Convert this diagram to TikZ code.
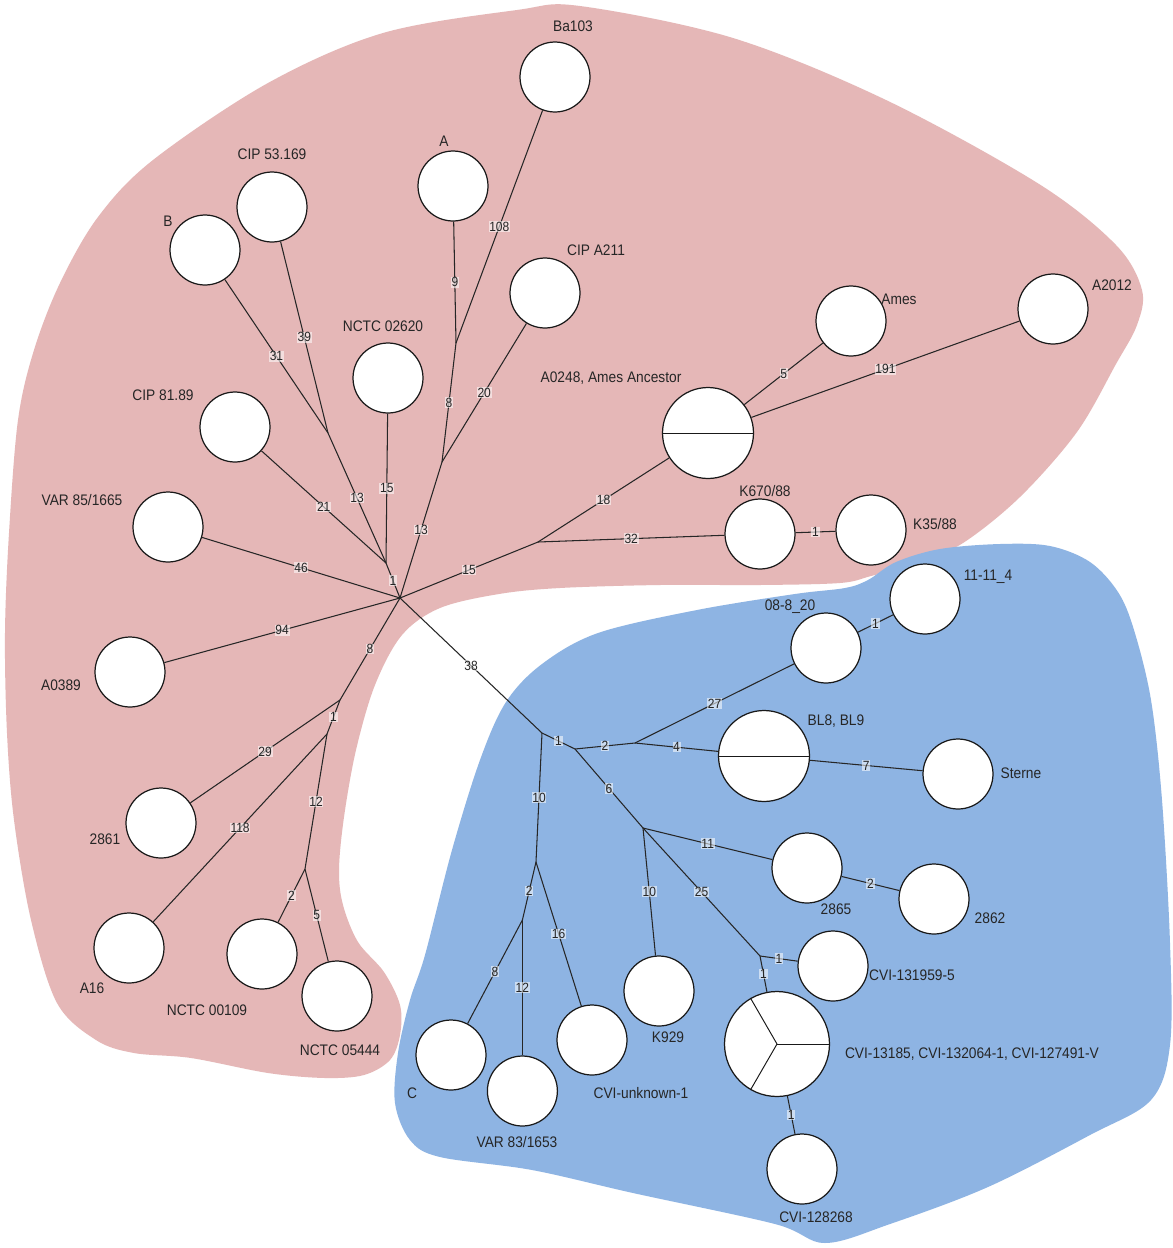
\documentclass[tikz,border=0pt]{standalone}
\usepackage{fontspec}
\setmainfont{Liberation Sans}[FakeStretch=0.9]
\definecolor{pinkblob}{HTML}{E5B7B7}
\definecolor{blueblob}{HTML}{8EB4E3}
\definecolor{txt}{HTML}{262626}
\begin{document}
\begin{tikzpicture}[x=0.02cm,y=-0.02cm,
 st/.style={circle,draw=black!90,fill=white,line width=0.7pt,minimum size=1.4cm,inner sep=0pt},
 big/.style={st,minimum size=1.82cm},
 huge/.style={st,minimum size=2.1cm},
 lab/.style={font=\fontsize{8.7}{10}\selectfont,text=txt,inner sep=0pt},
 edge/.style={line width=0.6pt,draw=black!85},
 split/.style={line width=0.55pt,draw=black!90},
 el/.style={font=\fontsize{7.6}{8}\selectfont,text=txt,fill=white,fill opacity=0.55,text opacity=1,inner sep=0.4pt}]
\useasboundingbox (0,0) rectangle (1173,1248);
\fill[white] (0,0) rectangle (1173,1248);
% pink cluster
\fill[pinkblob] plot[smooth cycle,tension=0.55] coordinates {
(580,6) (733,38) (886,100) (1039,184) (1116,245) (1142,290) (1137,325) (1116,364)
(1077,432) (1020,497) (963,543) (917,563) (871,576) (840,583) (760,585) (660,585)
(560,588) (499,594) (440,608) (402,635) (375,685) (356,750) (344,817) (339,870)
(343,905) (358,942) (384,972) (400,1005) (400,1035) (390,1060) (364,1075) (325,1078)
(268,1073) (191,1058) (134,1053) (96,1040) (57,1003) (31,920) (14,820) (7,733)
(5,633) (9,533) (18,420) (34,350) (60,283) (98,217) (153,160) (268,83) (383,33) (517,10)};
% blue cluster
\fill[blueblob] plot[smooth cycle,tension=0.55] coordinates {
(868,580) (896,562) (940,549) (1000,544) (1050,546) (1090,562) (1118,592) (1134,630)
(1151,700) (1162,800) (1170,943) (1170,1045) (1151,1100) (1090,1135) (988,1187) (890,1224)
(825,1243) (775,1224) (633,1193) (532,1170) (440,1157) (410,1140) (395,1103)
(398,1053) (410,1000) (425,955) (452,850) (480,760) (506,702) (542,664) (598,633)
(697,610) (795,594) (845,588)};
% nodes
\node[st] (Ba103) at (555,77) {};
\node[st] (A) at (453,186) {};
\node[st] (CIP53) at (272,207) {};
\node[st] (B) at (205,250) {};
\node[st] (CIPA211) at (545,293) {};
\node[st] (NCTC02620) at (388,378) {};
\node[st] (CIP81) at (235,427) {};
\node[st] (VAR85) at (168,527) {};
\node[st] (A0389) at (130,672) {};
\node[st] (n2861) at (161,823) {};
\node[st] (A16) at (129,948) {};
\node[st] (NCTC00109) at (262,954) {};
\node[st] (NCTC05444) at (337,996) {};
\node[big] (A0248) at (708,433) {};
\node[st] (Ames) at (851,321) {};
\node[st] (A2012) at (1053,309) {};
\node[st] (K670) at (760,534) {};
\node[st] (K35) at (871,530) {};
\node[st] (n1111) at (925,599) {};
\node[st] (n0808) at (826,648) {};
\node[big] (BL8) at (764,756) {};
\node[st] (Sterne) at (958,774) {};
\node[st] (n2865) at (807,868) {};
\node[st] (n2862) at (934,899) {};
\node[st] (CVI131959) at (833,966) {};
\node[huge] (CVItri) at (777,1044) {};
\node[st] (CVI128268) at (802,1169) {};
\node[st] (K929) at (659,991) {};
\node[st] (CVIunk) at (592,1040) {};
\node[st] (C) at (451,1055) {};
\node[st] (VAR83) at (522.4,1091) {};
% splits
\draw[split] (A0248.west) -- (A0248.east);
\draw[split] (BL8.west) -- (BL8.east);
\draw[split] (CVItri.center) -- (CVItri.0);
\draw[split] (CVItri.center) -- (CVItri.120);
\draw[split] (CVItri.center) -- (CVItri.240);
% junctions
\coordinate (hub) at (400,598);
\coordinate (jB) at (328,433);
\coordinate (jN) at (386,563);
\coordinate (jA1) at (442,462);
\coordinate (jA2) at (456,343);
\coordinate (jK) at (538,542);
\coordinate (jS1) at (340,700);
\coordinate (jS2) at (327,734);
\coordinate (jS3) at (305,869);
\coordinate (jb0) at (542,733);
\coordinate (jb1) at (575,749);
\coordinate (jb2) at (635,743);
\coordinate (jb3) at (643,828);
\coordinate (jb4) at (760,956);
\coordinate (jc1) at (536,862);
\coordinate (jc2) at (522.4,920);
% edges
\draw[edge] (Ba103) -- (jA2) node[el,midway]{108};
\draw[edge] (A) -- (jA2) node[el,midway]{9};
\draw[edge] (jA2) -- (jA1) node[el,midway]{8};
\draw[edge] (CIPA211) -- (jA1) node[el,midway]{20};
\draw[edge] (jA1) -- (hub) node[el,midway]{13};
\draw[edge] (CIP53) -- (jB) node[el,midway]{39};
\draw[edge] (B) -- (jB) node[el,midway]{31};
\draw[edge] (jB) -- (jN) node[el,midway]{13};
\draw[edge] (CIP81) -- (jN) node[el,midway]{21};
\draw[edge] (NCTC02620) -- (jN) node[el,midway]{15};
\draw[edge] (jN) -- (hub) node[el,midway]{1};
\draw[edge] (VAR85) -- (hub) node[el,midway]{46};
\draw[edge] (A0389) -- (hub) node[el,midway]{94};
\draw[edge] (hub) -- (jS1) node[el,midway]{8};
\draw[edge] (jS1) -- (n2861) node[el,midway]{29};
\draw[edge] (jS1) -- (jS2) node[el,midway]{1};
\draw[edge] (jS2) -- (A16) node[el,midway]{118};
\draw[edge] (jS2) -- (jS3) node[el,midway]{12};
\draw[edge] (jS3) -- (NCTC00109) node[el,midway]{2};
\draw[edge] (jS3) -- (NCTC05444) node[el,midway]{5};
\draw[edge] (hub) -- (jK) node[el,midway]{15};
\draw[edge] (jK) -- (A0248) node[el,midway]{18};
\draw[edge] (jK) -- (K670) node[el,midway]{32};
\draw[edge] (K670) -- (K35) node[el,midway]{1};
\draw[edge] (A0248) -- (Ames) node[el,midway]{5};
\draw[edge] (A0248) -- (A2012) node[el,midway]{191};
\draw[edge] (hub) -- (jb0) node[el,midway]{38};
\draw[edge] (jb0) -- (jb1) node[el,midway]{1};
\draw[edge] (jb0) -- (jc1) node[el,midway]{10};
\draw[edge] (jb1) -- (jb2) node[el,midway]{2};
\draw[edge] (jb2) -- (n0808) node[el,midway]{27};
\draw[edge] (n0808) -- (n1111) node[el,midway]{1};
\draw[edge] (jb2) -- (BL8) node[el,midway]{4};
\draw[edge] (BL8) -- (Sterne) node[el,midway]{7};
\draw[edge] (jb1) -- (jb3) node[el,midway]{6};
\draw[edge] (jb3) -- (n2865) node[el,midway]{11};
\draw[edge] (n2865) -- (n2862) node[el,midway]{2};
\draw[edge] (jb3) -- (K929) node[el,midway]{10};
\draw[edge] (jb3) -- (jb4) node[el,midway]{25};
\draw[edge] (jb4) -- (CVI131959) node[el,midway]{1};
\draw[edge] (jb4) -- (CVItri) node[el,midway]{1};
\draw[edge] (CVItri) -- (CVI128268) node[el,midway]{1};
\draw[edge] (jc1) -- (jc2) node[el,midway]{2};
\draw[edge] (jc1) -- (CVIunk) node[el,midway]{16};
\draw[edge] (jc2) -- (C) node[el,midway]{8};
\draw[edge] (jc2) -- (VAR83) node[el,midway]{12};
% labels
\node[lab] (lBa103) at (573,26) {Ba103};
\node[lab] (lA) at (444,141) {A};
\node[lab] (lCIP53) at (272,154) {CIP 53.169};
\node[lab] (lB) at (168,221) {B};
\node[lab] (lCIPA211) at (596,250) {CIP A211};
\node[lab] (lNCTC02620) at (383,326) {NCTC 02620};
\node[lab] (lCIP81) at (163,395) {CIP 81.89};
\node[lab] (lVAR85) at (82,500) {VAR 85/1665};
\node[lab] (lA0389) at (61,685) {A0389};
\node[lab] (l2861) at (105,839) {2861};
\node[lab] (lA16) at (92,988) {A16};
\node[lab] (lNCTC00109) at (207,1010) {NCTC 00109};
\node[lab] (lNCTC05444) at (340,1050) {NCTC 05444};
\node[lab] (lA0248) at (611,378) {A0248, Ames Ancestor};
\node[lab] (lAmes) at (899,299) {Ames};
\node[lab] (lA2012) at (1112,285) {A2012};
\node[lab] (lK670) at (765,491) {K670/88};
\node[lab] (lK35) at (935,524) {K35/88};
\node[lab] (l1111) at (988,577) {11-11\_4};
\node[lab] (l0808) at (790,607) {08-8\_20};
\node[lab] (lBL8) at (836,721) {BL8, BL9};
\node[lab] (lSterne) at (1021,773) {Sterne};
\node[lab] (l2865) at (836,909) {2865};
\node[lab] (l2862) at (990,918) {2862};
\node[lab] (lCVI131959) at (912,975) {CVI-131959-5};
\node[lab] (lCVItri) at (972,1054) {CVI-13185, CVI-132064-1, CVI-127491-V};
\node[lab] (lCVI128268) at (816,1217) {CVI-128268};
\node[lab] (lK929) at (668,1037) {K929};
\node[lab] (lCVIunk) at (641,1093) {CVI-unknown-1};
\node[lab] (lC) at (412,1093) {C};
\node[lab] (lVAR83) at (517,1142) {VAR 83/1653};
\end{tikzpicture}
\end{document}
